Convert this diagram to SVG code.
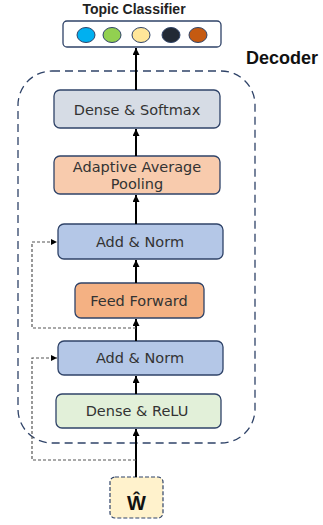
<svg xmlns="http://www.w3.org/2000/svg" width="323" height="525" viewBox="0 0 323 525">
<defs>
<style>
.box{stroke:#2f4368;stroke-width:1.3}
.lbl{font-family:"DejaVu Sans","Noto Sans",sans-serif;font-size:14.5px;fill:#333;text-anchor:middle}
.main{stroke:#000;stroke-width:2;fill:none}
.res{stroke:#555;stroke-width:1.2;stroke-dasharray:3 2;fill:none}
</style>
<marker id="ah" viewBox="0 0 10 10" refX="10" refY="5" markerWidth="6" markerHeight="6" orient="auto" markerUnits="userSpaceOnUse">
<path d="M0,0 L10,5 L0,10 z" fill="#000"/>
</marker>
<marker id="ah2" viewBox="0 0 10 10" refX="10" refY="5" markerWidth="7" markerHeight="7" orient="auto" markerUnits="userSpaceOnUse">
<path d="M0,0 L10,5 L0,10 z" fill="#000"/>
</marker>
</defs>
<rect width="323" height="525" fill="#fff"/>
<g id="decoder">
<rect x="18" y="71" width="237" height="372" rx="34" fill="none" stroke="#2f4368" stroke-width="1.3" stroke-dasharray="8 5"/>
<text x="282" y="64" font-family="Liberation Sans,Arial,sans-serif" font-size="18" font-weight="bold" fill="#111" text-anchor="middle">Decoder</text>
</g>
<g id="classifier">
<text x="134" y="14" font-family="Liberation Sans,Arial,sans-serif" font-size="14" font-weight="bold" fill="#222" text-anchor="middle">Topic Classifier</text>
<rect x="63" y="21" width="158" height="26" rx="4" fill="#fff" stroke="#2f4368" stroke-width="1.3"/>
<ellipse cx="86" cy="35" rx="9" ry="7.5" fill="#00b0f0" stroke="#2f4368" stroke-width="1"/>
<ellipse cx="112" cy="35" rx="9" ry="7.5" fill="#92d050" stroke="#2f4368" stroke-width="1"/>
<ellipse cx="141" cy="35" rx="9" ry="7.5" fill="#ffe699" stroke="#2f4368" stroke-width="1"/>
<ellipse cx="171" cy="35" rx="9" ry="7.5" fill="#222a35" stroke="#2f4368" stroke-width="1"/>
<ellipse cx="198" cy="35" rx="9" ry="7.5" fill="#c55a11" stroke="#2f4368" stroke-width="1"/>
</g>
<g id="dense-softmax">
<rect class="box" x="54" y="90" width="166" height="38" rx="6" fill="#d6dce5"/>
<text class="lbl" x="137" y="114.5">Dense &amp; Softmax</text>
</g>
<g id="pooling">
<rect class="box" x="54" y="156" width="166" height="38" rx="6" fill="#f8cbad"/>
<text class="lbl" x="137" y="171.5">Adaptive Average<tspan x="137" y="189">Pooling</tspan></text>
</g>
<g id="addnorm2">
<rect class="box" x="58" y="224" width="165" height="35" rx="6" fill="#b4c7e7"/>
<text class="lbl" x="140" y="247">Add &amp; Norm</text>
</g>
<g id="feedforward">
<rect class="box" x="75" y="283" width="129" height="35" rx="6" fill="#f4b183"/>
<text class="lbl" x="139" y="306">Feed Forward</text>
</g>
<g id="addnorm1">
<rect class="box" x="58" y="341" width="165" height="34" rx="6" fill="#b4c7e7"/>
<text class="lbl" x="140" y="363">Add &amp; Norm</text>
</g>
<g id="dense-relu">
<rect class="box" x="56" y="394" width="165" height="34" rx="6" fill="#e2f0d9"/>
<text class="lbl" x="137" y="416">Dense &amp; ReLU</text>
</g>
<g id="input">
<rect x="110" y="477" width="53" height="41" rx="5" fill="#fff2cc" stroke="#2f4368" stroke-width="1.2" stroke-dasharray="4 2"/>
<text x="136.5" y="510" font-family="Liberation Sans,Arial,sans-serif" font-size="20" font-weight="bold" fill="#111" text-anchor="middle">Ŵ</text>
</g>
<g id="connectors">
<line class="main" x1="136" y1="477" x2="136" y2="429" marker-end="url(#ah2)"/>
<line class="main" x1="136" y1="394" x2="136" y2="376" marker-end="url(#ah2)"/>
<line class="main" x1="136" y1="341" x2="136" y2="319" marker-end="url(#ah2)"/>
<line class="main" x1="136" y1="283" x2="136" y2="260" marker-end="url(#ah2)"/>
<line class="main" x1="136" y1="224" x2="136" y2="195" marker-end="url(#ah2)"/>
<line class="main" x1="136" y1="156" x2="136" y2="129" marker-end="url(#ah2)"/>
<line class="main" x1="136" y1="90" x2="136" y2="48" marker-end="url(#ah2)"/>
<polyline class="res" points="136,460 32,460 32,358 57,358" marker-end="url(#ah)"/>
<polyline class="res" points="136,328 32,328 32,242 57,242" marker-end="url(#ah)"/>
</g>
</svg>
